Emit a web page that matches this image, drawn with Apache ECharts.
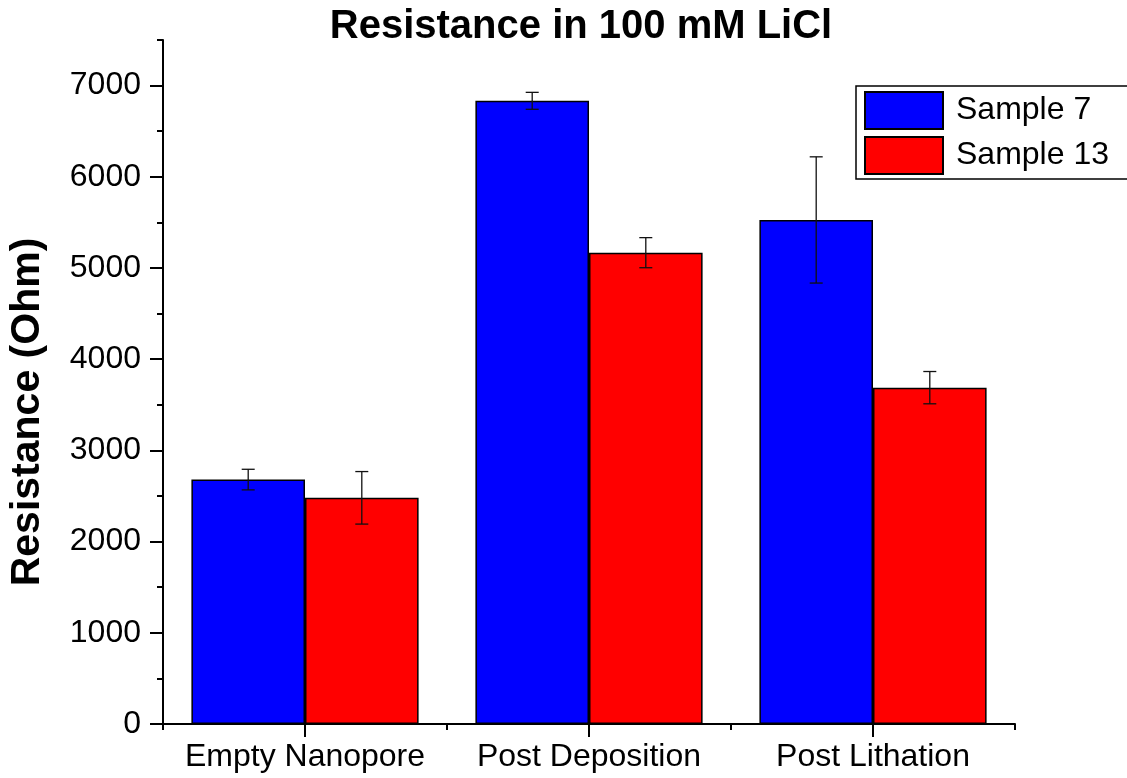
<!DOCTYPE html>
<html>
<head>
<meta charset="utf-8">
<script src="https://cdn.jsdelivr.net/npm/echarts@6/dist/echarts.min.js"></script>
<style>
  html, body { margin: 0; padding: 0; background: #fff; }
  #chart { width: 1127px; height: 778px; }
</style>
</head>
<body>
<div id="chart"></div>
<script>
// Resistance measurements (Ohm) for each processing stage
const categories = ['Empty Nanopore', 'Post Deposition', 'Post Lithation'];
const sample7 = [2680, 6833, 5527];
const sample7Err = [113, 93, 692];
const sample13 = [2480, 5168, 3688];
const sample13Err = [288, 165, 177];
const yTicks = [0, 1000, 2000, 3000, 4000, 5000, 6000, 7000];

const FONT = '"Liberation Sans", Arial, sans-serif';

// Error bar rows: [category index, low, high, side]; side -1 = left bar, +1 = right bar
function errRows(vals, errs, side) {
  return vals.map((v, i) => [i, v - errs[i], v + errs[i], side]);
}

function renderErr(params, api) {
  const idx = api.value(0);
  const side = api.value(3);
  const cw = api.size([1, 0])[0];
  const lo = api.coord([idx, api.value(1)]);
  const hi = api.coord([idx, api.value(2)]);
  const x = lo[0] + side * 0.2 * cw;
  const cap = 6.5;
  const style = { stroke: '#111', lineWidth: 1.3 };
  return {
    type: 'group',
    children: [
      { type: 'line', shape: { x1: x, y1: lo[1], x2: x, y2: hi[1] }, style },
      { type: 'line', shape: { x1: x - cap, y1: lo[1], x2: x + cap, y2: lo[1] }, style },
      { type: 'line', shape: { x1: x - cap, y1: hi[1], x2: x + cap, y2: hi[1] }, style }
    ]
  };
}

const chart = echarts.init(document.getElementById('chart'), null, { renderer: 'canvas' });

chart.setOption({
  animation: false,
  backgroundColor: '#fff',
  textStyle: { fontFamily: FONT },
  title: {
    text: 'Resistance in 100 mM LiCl',
    left: 581,
    top: 7,
    padding: 0,
    textAlign: 'center',
    textStyle: { fontFamily: FONT, fontSize: 40, fontWeight: 'bold', color: '#000' }
  },
  graphic: [{
    type: 'text',
    x: 28,
    y: 412,
    rotation: Math.PI / 2,
    style: {
      text: 'Resistance (Ohm)',
      fontFamily: FONT,
      fontSize: 41,
      fontWeight: 'bold',
      fill: '#000',
      align: 'center',
      verticalAlign: 'middle'
    }
  }],
  legend: {
    orient: 'vertical',
    left: 856,
    top: 86,
    itemWidth: 78,
    itemHeight: 37,
    itemGap: 6,
    padding: [5, 60, 4, 8],
    borderColor: '#000',
    borderWidth: 1.5,
    icon: 'rect',
    textStyle: { fontFamily: FONT, fontSize: 32, lineHeight: 36, color: '#000', padding: [0, 0, 0, 8] },
    data: ['Sample 7', 'Sample 13']
  },
  grid: { left: 163, right: 112, top: 40, bottom: 54, containLabel: false },
  xAxis: [{
    // main category axis: line, labels and short ticks at category boundaries
    type: 'category',
    data: categories,
    position: 'bottom',
    axisLine: { lineStyle: { color: '#000', width: 2 } },
    axisTick: { show: true, interval: 0, length: 6, lineStyle: { color: '#000', width: 2 } },
    axisLabel: { interval: 0, fontFamily: FONT, fontSize: 32, color: '#000', margin: 17 },
    splitLine: { show: false }
  }, {
    // overlay axis: longer ticks centred under each category
    type: 'category',
    data: categories,
    position: 'bottom',
    offset: 0,
    axisLine: { show: false },
    axisTick: { show: true, alignWithLabel: true, interval: 0, length: 13, lineStyle: { color: '#000', width: 2 } },
    axisLabel: { show: true, interval: 0, color: 'rgba(0,0,0,0)', fontSize: 32, margin: 17 },
    splitLine: { show: false }
  }],
  yAxis: [{
    type: 'value',
    min: 0,
    max: 7500,
    interval: 1000,
    position: 'left',
    axisLine: { show: true, lineStyle: { color: '#000', width: 2 } },
    axisTick: { show: true, length: 13, customValues: yTicks, lineStyle: { color: '#000', width: 2 } },
    axisLabel: {
      fontFamily: FONT, fontSize: 32, color: '#000', margin: 22,
      customValues: yTicks,
      formatter: (v) => String(v)
    },
    splitLine: { show: false }
  }, {
    type: 'value',
    min: 0,
    max: 7500,
    interval: 500,
    position: 'left',
    offset: 0,
    axisLine: { show: false },
    axisTick: { show: true, length: 6, lineStyle: { color: '#000', width: 2 } },
    axisLabel: { show: false },
    splitLine: { show: false }
  }],
  series: [{
    name: 'Sample 7',
    type: 'bar',
    data: sample7,
    barGap: 0,
    barCategoryGap: '20%',
    itemStyle: { color: '#0000ff', borderColor: '#000', borderWidth: 1.5 }
  }, {
    name: 'Sample 13',
    type: 'bar',
    data: sample13,
    barGap: 0,
    barCategoryGap: '20%',
    itemStyle: { color: '#ff0000', borderColor: '#000', borderWidth: 1.5 }
  }, {
    type: 'custom',
    renderItem: renderErr,
    data: errRows(sample7, sample7Err, -1),
    z: 10,
    silent: true
  }, {
    type: 'custom',
    renderItem: renderErr,
    data: errRows(sample13, sample13Err, 1),
    z: 10,
    silent: true
  }]
});
</script>
</body>
</html>
